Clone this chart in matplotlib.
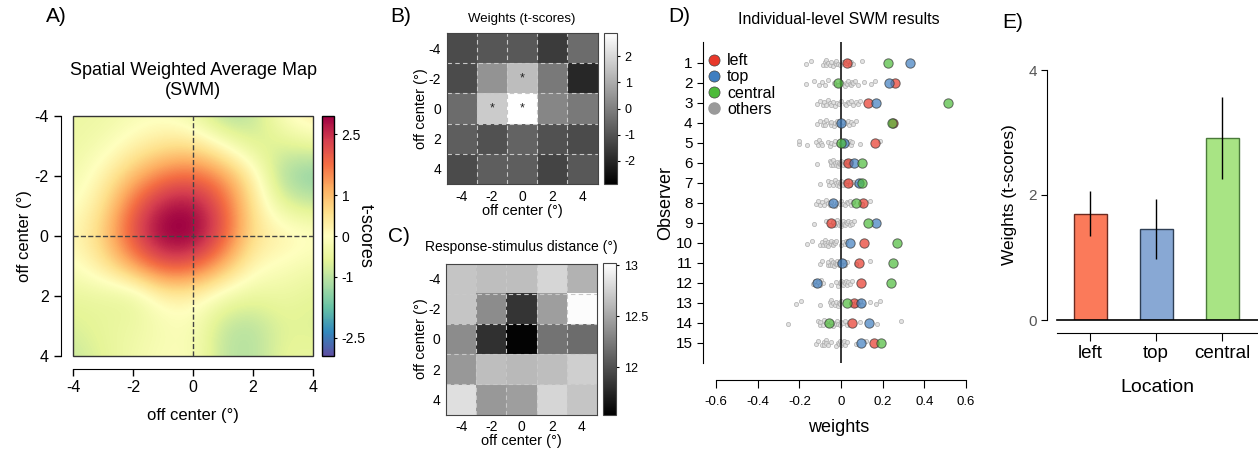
import numpy as np
import matplotlib.pyplot as plt
from matplotlib.patches import Rectangle
from matplotlib.lines import Line2D

plt.rcParams['font.family'] = ['Liberation Sans', 'DejaVu Sans']
plt.rcParams['axes.unicode_minus'] = False

W, H = 1258, 449

# ---- data ----
offsets = [-4, -2, 0, 2, 4]

# A) smoothed SWM map, rows y=-4..4 (top to bottom), cols x=-4..4
swm_grid = [
    [-0.4, -0.4, -0.2, -0.1, -0.4, -1.2, -1.0, 0.0, 0.4],
    [-0.4, -0.2, 0.2, 0.5, 0.6, 0.0, -0.7, -0.7, -0.5],
    [-0.3, 0.2, 1.0, 1.7, 1.9, 1.4, 0.3, -1.3, -1.6],
    [-0.1, 0.5, 1.9, 2.8, 2.9, 2.0, 0.5, -0.6, -0.8],
    [0.1, 0.8, 2.2, 3.1, 3.1, 2.1, 0.5, 0.3, 0.1],
    [-0.1, 0.4, 1.3, 2.1, 2.0, 1.1, 0.1, -0.1, -0.3],
    [-0.5, -0.5, -0.6, 0.2, 0.2, -0.3, -0.5, -0.4, -0.6],
    [-0.7, -0.5, -0.4, -0.2, -0.1, -1.0, -1.1, -0.6, -0.7],
    [-0.9, -0.6, -0.3, -0.1, -0.1, -1.0, -1.1, -0.5, -0.5],
]

# B) weights (t-scores), rows y=-4..4, cols x=-4..4
weights_t = [
    [-1.2, -0.95, -0.9, -1.55, -0.45],
    [-1.2, 0.45, 1.4, -0.15, -2.0],
    [-0.45, 1.7, 2.9, 0.15, -0.15],
    [-0.75, -1.05, -0.65, -1.05, -1.2],
    [-1.2, -0.75, -0.75, -1.35, -0.9],
]
star_x = [0, -2, 0]
star_y = [-2, 0, 0]

# C) response-stimulus distance (deg)
resp_dist = [
    [12.68, 12.64, 12.64, 12.78, 12.57],
    [12.68, 12.35, 11.84, 12.45, 13.0],
    [12.35, 11.81, 11.55, 12.20, 12.16],
    [12.42, 12.64, 12.61, 12.64, 12.74],
    [12.83, 12.42, 12.45, 12.78, 12.68],
]

# D) individual-level weights
observers = list(range(1, 16))
w_left = [0.027, 0.26, 0.128, 0.25, 0.162, 0.034, 0.034, 0.106, -0.046,
          0.109, 0.085, 0.098, 0.063, 0.054, 0.159]
w_top = [0.333, 0.23, 0.167, 0.0, 0.013, 0.063, 0.088, -0.037, 0.167,
         0.045, 0.005, -0.114, 0.098, 0.135, 0.098]
w_central = [0.226, -0.016, 0.514, 0.245, 0.002, 0.1, 0.103, 0.074, 0.131,
             0.271, 0.252, 0.239, 0.029, -0.058, 0.194]
w_others = [
    [-0.167, -0.143, -0.087, -0.079, -0.074, -0.071, -0.063, -0.054, -0.046, -0.038, -0.03,
     -0.026, -0.022, -0.013, -0.006, 0.01, 0.022, 0.034, 0.042, 0.05, 0.058, 0.101],
    [-0.167, -0.131, -0.106, -0.09, -0.079, -0.063, -0.035, -0.013, 0.0, 0.018, 0.026,
     0.03, 0.034, 0.042, 0.05, 0.054, 0.06, 0.066, 0.082, 0.111, 0.146, 0.162],
    [-0.115, -0.103, -0.087, -0.08, -0.071, -0.063, -0.054, -0.046, -0.038, -0.03, -0.019,
     -0.01, 0.002, 0.018, 0.026, 0.034, 0.04, 0.05, 0.058, 0.071, 0.082, 0.09],
    [-0.115, -0.103, -0.087, -0.08, -0.079, -0.07, -0.054, -0.05, -0.046, -0.035, -0.03,
     -0.02, -0.019, -0.006, 0.0, 0.01, 0.026, 0.034, 0.04, 0.05, 0.058, 0.074],
    [-0.202, -0.2, -0.163, -0.12, -0.111, -0.106, -0.095, -0.09, -0.06, -0.054, -0.046,
     -0.035, -0.03, -0.014, 0.0, 0.026, 0.03, 0.042, 0.05, 0.055, 0.09, 0.186],
    [-0.115, -0.054, -0.05, -0.046, -0.04, -0.038, -0.03, -0.022, -0.02, -0.014, -0.01,
     -0.006, 0.0, 0.002, 0.01, 0.015, 0.018, 0.026, 0.03, 0.034, 0.042, 0.05],
    [-0.103, -0.063, -0.058, -0.05, -0.04, -0.03, -0.022, -0.02, -0.014, -0.01, -0.006,
     0.0, 0.002, 0.005, 0.01, 0.018, 0.026, 0.03, 0.042, 0.058, 0.07, 0.09],
    [-0.122, -0.111, -0.103, -0.09, -0.08, -0.071, -0.06, -0.054, -0.046, -0.03, -0.019,
     -0.006, 0.0, 0.01, 0.018, 0.029, 0.035, 0.042, 0.05, 0.058, 0.1, 0.141],
    [-0.131, -0.071, -0.051, -0.04, -0.03, -0.02, -0.019, -0.01, -0.005, 0.0, 0.002,
     0.005, 0.01, 0.015, 0.018, 0.025, 0.029, 0.035, 0.042, 0.05, 0.054, 0.061],
    [-0.163, -0.138, -0.099, -0.09, -0.085, -0.079, -0.075, -0.071, -0.063, -0.06, -0.054,
     -0.05, -0.046, -0.04, -0.038, -0.035, -0.03, -0.022, 0.0, 0.01, 0.018, 0.026],
    [-0.103, -0.09, -0.063, -0.06, -0.051, -0.05, -0.045, -0.042, -0.04, -0.035, -0.03,
     -0.025, -0.02, -0.019, -0.01, 0.0, 0.002, 0.01, 0.018, 0.029, 0.074, 0.141],
    [-0.135, -0.127, -0.12, -0.111, -0.1, -0.095, -0.087, -0.046, -0.022, -0.014, -0.006,
     0.0, 0.002, 0.005, 0.01, 0.015, 0.018, 0.025, 0.029, 0.035, 0.042, 0.054],
    [-0.215, -0.191, -0.099, -0.054, -0.05, -0.046, -0.038, -0.03, -0.026, -0.016, -0.01,
     -0.006, 0.002, 0.06, 0.065, 0.074, 0.08, 0.09, 0.1, 0.138, 0.17, 0.189],
    [-0.255, -0.111, -0.103, -0.1, -0.087, -0.08, -0.071, -0.063, -0.046, -0.04, -0.03,
     -0.022, -0.02, -0.014, -0.006, 0.0, 0.01, 0.018, 0.029, 0.09, 0.173, 0.29],
    [-0.119, -0.111, -0.09, -0.083, -0.08, -0.074, -0.07, -0.063, -0.046, -0.022, -0.014,
     -0.01, -0.006, 0.0, 0.002, 0.005, 0.01, 0.015, 0.018, 0.029, 0.074, 0.119],
]
# small vertical scatter used for the "others" dots
jitter = [0.05, -0.1, 0.12, -0.04, 0.08, -0.13, 0.02, 0.1, -0.07, 0.14, -0.02,
          0.06, -0.11, 0.03, 0.11, -0.06, 0.0, -0.12, 0.09, -0.03, 0.07, -0.09]

# E) group-level weights
locations = ['left', 'top', 'central']
bar_means = [1.70, 1.45, 2.91]
bar_err = [0.36, 0.48, 0.66]

c_left, c_top, c_central, c_other = '#e8382a', '#3f7ec0', '#4dbb3a', '#9a9a9a'


def box(x0, y0, x1, y1):
    return [x0 / W, 1 - y1 / H, (x1 - x0) / W, (y1 - y0) / H]


fig = plt.figure(figsize=(W / 100, H / 100), dpi=100)

# ---------------- A ----------------
ax = fig.add_axes(box(73, 116, 313, 356))
im = ax.imshow(swm_grid, cmap='Spectral_r', vmin=-2.95, vmax=2.95,
               extent=(-4.5, 4.5, 4.5, -4.5), interpolation='bicubic',
               interpolation_stage='data')
ax.set_xlim(-4, 4)
ax.set_ylim(4, -4)
ax.axvline(0, color='#444444', ls='--', lw=1)
ax.axhline(0, color='#444444', ls='--', lw=1)
for s in ['top', 'right']:
    ax.spines[s].set_visible(False)
ax.spines['left'].set_position(('outward', 9))
ax.spines['bottom'].set_position(('outward', 9))
ax.add_patch(Rectangle((0, 0), 1, 1, transform=ax.transAxes, fill=False,
                       ec='#333333', lw=1, clip_on=False))
ax.set_xticks(offsets)
ax.set_yticks(offsets)
ax.tick_params(labelsize=11.5, length=5, width=1)
ax.set_xlabel('off center (°)', fontsize=12, labelpad=9)
ax.set_ylabel('off center (°)', fontsize=12, labelpad=2)
ax.set_title('Spatial Weighted Average Map\n(SWM)', fontsize=13, pad=15,
             linespacing=1.25)
fig.text(46 / W, 1 - 16 / H, 'A)', fontsize=15, va='center')

cax = fig.add_axes(box(322, 116, 334, 356))
cb = fig.colorbar(im, cax=cax, ticks=[2.5, 1, 0, -1, -2.5])
cb.ax.set_yticklabels(['2.5', '1', '0', '-1', '-2.5'])
cb.ax.tick_params(labelsize=10, length=2)
cb.outline.set_linewidth(1)
cb.set_label('t-scores', rotation=270, fontsize=13, labelpad=6)

# ---------------- B ----------------
ax = fig.add_axes(box(446, 33, 598, 184))
im = ax.imshow(weights_t, cmap='gray', vmin=-2.9, vmax=2.9,
               extent=(-5, 5, 5, -5), interpolation='nearest')
for v in [-3, -1, 1, 3]:
    ax.axvline(v, color='#c8c8c8', ls=(0, (4, 3)), lw=0.8)
    ax.axhline(v, color='#c8c8c8', ls=(0, (4, 3)), lw=0.8)
for sx, sy in zip(star_x, star_y):
    ax.text(sx, sy, '*', ha='center', va='center', fontsize=9, color='#222222')
ax.set_xticks(offsets)
ax.set_yticks(offsets)
ax.tick_params(labelsize=10, length=0, pad=4)
for s in ax.spines.values():
    s.set_color('#444444')
ax.set_xlabel('off center (°)', fontsize=10.5, labelpad=0)
ax.set_ylabel('off center (°)', fontsize=10.5, labelpad=0)
ax.set_title('Weights (t-scores)', fontsize=9.5, pad=8)
fig.text(390 / W, 1 - 17 / H, 'B)', fontsize=15, va='center')
cax = fig.add_axes(box(604, 33, 617, 184))
cb = fig.colorbar(im, cax=cax, ticks=[2, 1, 0, -1, -2])
cb.ax.tick_params(labelsize=9, length=2)
cb.outline.set_edgecolor('#444444')

# ---------------- C ----------------
ax = fig.add_axes(box(446, 263, 597, 415))
im = ax.imshow(resp_dist, cmap='gray', vmin=11.53, vmax=13.02,
               extent=(-5, 5, 5, -5), interpolation='nearest')
for v in [-3, -1, 1, 3]:
    ax.axvline(v, color='#c8c8c8', ls=(0, (4, 3)), lw=0.8)
    ax.axhline(v, color='#c8c8c8', ls=(0, (4, 3)), lw=0.8)
ax.set_xticks(offsets)
ax.set_yticks(offsets)
ax.tick_params(labelsize=10, length=0, pad=4)
for s in ax.spines.values():
    s.set_color('#444444')
ax.set_xlabel('off center (°)', fontsize=10.5, labelpad=0)
ax.set_ylabel('off center (°)', fontsize=10.5, labelpad=0)
ax.set_title('Response-stimulus distance (°)', fontsize=10, pad=9)
fig.text(388 / W, 1 - 236 / H, 'C)', fontsize=15, va='center')
cax = fig.add_axes(box(603, 263, 616, 415))
cb = fig.colorbar(im, cax=cax, ticks=[13, 12.5, 12])
cb.ax.set_yticklabels(['13', '12.5', '12'])
cb.ax.tick_params(labelsize=9, length=2)
cb.outline.set_edgecolor('#444444')

# ---------------- D ----------------
ax = fig.add_axes(box(703, 42, 975, 363))
for obs, vals in zip(observers, w_others):
    ax.scatter(vals, [obs + j for j in jitter[:len(vals)]], s=9, facecolor='#dddddd',
               edgecolor='#aaaaaa', linewidth=0.6, alpha=0.8, zorder=2)
ax.axvline(0, color='black', lw=1.1, zorder=3)
for vals, col in [(w_left, c_left), (w_top, c_top), (w_central, c_central)]:
    ax.scatter(vals, observers, s=45, color=col, alpha=0.7,
               edgecolor='#333333', linewidth=0.7, zorder=4)
ax.set_xlim(-0.663, 0.644)
ax.set_ylim(16, -0.05)
ax.set_yticks(observers)
ax.set_xticks([-0.6, -0.4, -0.2, 0, 0.2, 0.4, 0.6])
ax.set_xticklabels(['-0.6', '-0.4', '-0.2', '0', '0.2', '0.4', '0.6'])
for s in ['top', 'right']:
    ax.spines[s].set_visible(False)
ax.spines['bottom'].set_position(('outward', 12))
ax.spines['bottom'].set_bounds(-0.6, 0.6)
ax.tick_params(axis='x', labelsize=9.5, length=6, pad=6)
ax.tick_params(axis='y', labelsize=11, length=4)
ax.set_xlabel('weights', fontsize=13, labelpad=8)
ax.set_ylabel('Observer', fontsize=13, labelpad=1)
ax.set_title('Individual-level SWM results', fontsize=11.5, pad=13)
fig.text(668 / W, 1 - 17 / H, 'D)', fontsize=15, va='center')
handles = [Line2D([], [], marker='o', ls='', ms=8, mfc=c, mec='#444444', mew=0.5)
           for c in [c_left, c_top, c_central]]
handles.append(Line2D([], [], marker='o', ls='', ms=8, mfc=c_other, mec=c_other))
ax.legend(handles, ['left', 'top', 'central', 'others'], loc='upper left',
          bbox_to_anchor=(-0.035, 1.0), frameon=False, fontsize=11.5,
          handletextpad=0.2, labelspacing=0.08, handlelength=1.2, borderaxespad=0.3)

# ---------------- E ----------------
ax = fig.add_axes(box(1057, 70, 1258, 320))
ax.bar(range(len(locations)), bar_means, width=0.5,
       color=['#fb7a5a', '#88a8d4', '#a8e484'],
       edgecolor=['#6b2a20', '#2f3f55', '#4a7a3a'], linewidth=1,
       yerr=bar_err, error_kw=dict(lw=1, capsize=0, ecolor='black'))
ax.axhline(0, color='black', lw=1.2, clip_on=False)
ax.set_xlim(-0.5, 2.545)
ax.set_ylim(0, 4)
ax.set_yticks([0, 2, 4])
ax.set_xticks(range(len(locations)))
ax.set_xticklabels(locations)
for s in ['top', 'right']:
    ax.spines[s].set_visible(False)
ax.spines['left'].set_position(('outward', 7))
ax.spines['bottom'].set_position(('outward', 9))
ax.tick_params(axis='y', labelsize=11, labelcolor='#555555', length=4)
ax.tick_params(axis='x', labelsize=13.5, length=6, pad=3)
ax.set_xlabel('Location', fontsize=14, labelpad=12)
ax.set_ylabel('Weights (t-scores)', fontsize=12.5, labelpad=8)
fig.text(1002 / W, 1 - 22 / H, 'E)', fontsize=15, va='center')

fig.savefig('out.png', dpi=100)
